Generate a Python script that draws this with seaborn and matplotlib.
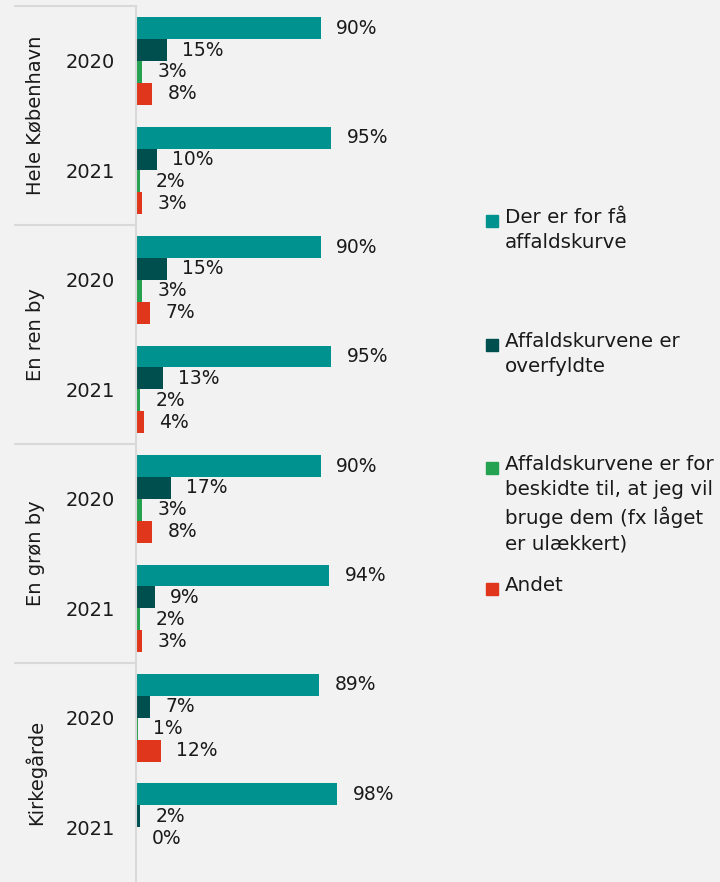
import numpy as np
import pandas as pd
import seaborn as sns
import matplotlib.pyplot as plt
from matplotlib.patches import Rectangle
import matplotlib.transforms as mtransforms

# data
groups = ["Hele København", "En ren by", "En grøn by", "Kirkegårde"]
years = ["2020", "2021"]
series = ["Der er for få\naffaldskurve",
          "Affaldskurvene er\noverfyldte",
          "Affaldskurvene er for\nbeskidte til, at jeg vil\nbruge dem (fx låget\ner ulækkert)",
          "Andet"]
for_faa = [90, 95, 90, 95, 90, 94, 89, 98]
overfyldte = [15, 10, 15, 13, 17, 9, 7, 2]
beskidte = [3, 2, 3, 2, 3, 2, 1, 0]
andet = [8, 3, 7, 4, 8, 3, 12, np.nan]

colors = ["#00928f", "#004f4f", "#25a152", "#e0361c"]
bg = "#f2f2f2"
line_col = "#d9d9d9"
text_col = "#1a1a1a"

# long format dataframe
keys = [f"{g} {y}" for g in groups for y in years]
rows = []
for s, vals in zip(series, [for_faa, overfyldte, beskidte, andet]):
    for k, v in zip(keys, vals):
        rows.append({"key": k, "serie": s, "value": v})
df = pd.DataFrame(rows).dropna()

sns.set_style("white")
plt.rcParams["font.family"] = ["DejaVu Sans"]
plt.rcParams["text.color"] = text_col

W, H = 720, 882
fig = plt.figure(figsize=(W / 100, H / 100), dpi=100, facecolor=bg)
ax = fig.add_axes([136 / W, 0, 205.6 / W, 875.75 / H], facecolor=bg)

sns.barplot(data=df, x="value", y="key", hue="serie", order=keys, hue_order=series,
            palette=colors, saturation=1, orient="h", errorbar=None, width=0.8,
            linewidth=0, legend=False, ax=ax)

ax.set_xlim(0, 100)
ax.set_ylim(len(keys) - 0.5, -0.5)

# value labels
for cont in ax.containers:
    ax.bar_label(cont, labels=[f"{v:.0f}%" for v in cont.datavalues],
                 padding=11, fontsize=13.5, color=text_col)

# axis styling
for side in ["top", "right", "bottom"]:
    ax.spines[side].set_visible(False)
ax.spines["left"].set_color(line_col)
ax.spines["left"].set_linewidth(1.5)
ax.set_xticks([])
ax.set_yticks(range(len(keys)))
ax.set_yticklabels(years * len(groups), fontsize=14, color=text_col)
ax.tick_params(axis="y", length=0, pad=15)
ax.set_xlabel("")
ax.set_ylabel("")

# group labels and separators
trans = mtransforms.blended_transform_factory(ax.transAxes, ax.transData)
for i, g in enumerate(groups):
    ax.text(-0.49, 2 * i + 0.5, g, rotation=90, ha="center", va="center",
            fontsize=14, color=text_col, transform=trans)
    ax.plot([-0.59, 0], [2 * i - 0.5, 2 * i - 0.5], color=line_col, lw=1.5,
            transform=trans, clip_on=False)

# legend, drawn by hand to keep the reference spacing
leg_y = [221, 345, 468, 589]
for s, c, yc in zip(series, colors, leg_y):
    fig.patches.append(Rectangle((486 / W, 1 - (yc + 6) / H), 12 / W, 12 / H,
                                 transform=fig.transFigure, color=c))
    fig.text(505 / W, 1 - (yc - 13) / H, s, ha="left", va="top", fontsize=14.3,
             color=text_col, linespacing=1.42)

fig.savefig("out.png", dpi=100, facecolor=bg)
